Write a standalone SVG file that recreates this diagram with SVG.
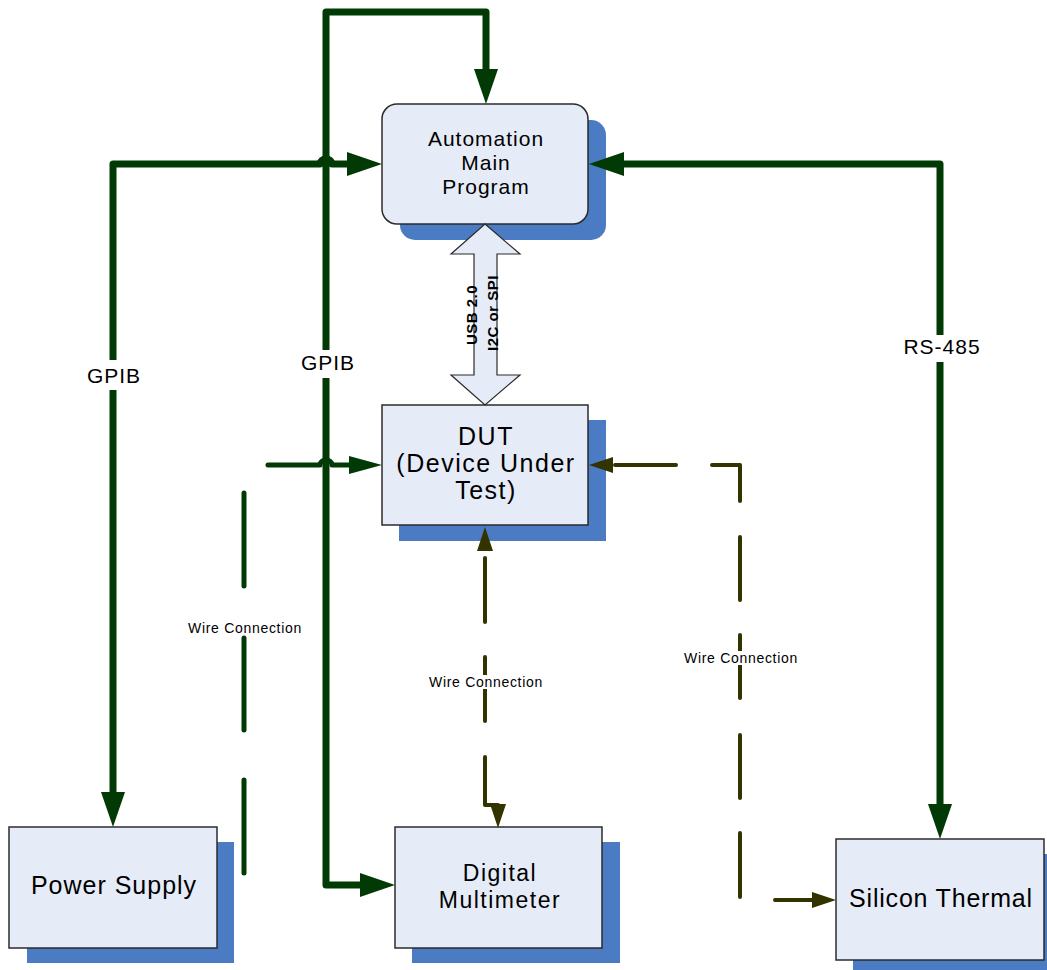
<svg xmlns="http://www.w3.org/2000/svg" width="1047" height="970" viewBox="0 0 1047 970">
<style>
.box{fill:#E6ECF7;stroke:#2b2b2b;stroke-width:1.5}
.sh{fill:#4A7BC3}
.nt{font-family:"Liberation Sans",Arial,sans-serif;fill:#000;text-anchor:middle}
.g{fill:none;stroke:#013A05;stroke-width:7;stroke-linejoin:round;stroke-linecap:round}
.gd{fill:none;stroke:#013A05;stroke-width:5;stroke-linejoin:round;stroke-linecap:round}
.od{fill:none;stroke:#333300;stroke-width:4;stroke-linejoin:round;stroke-linecap:round}
.lbl{font-family:"Liberation Sans",Arial,sans-serif;font-size:21px;letter-spacing:1px;text-anchor:middle;fill:#000}
.wl{font-family:"Liberation Sans",Arial,sans-serif;font-size:14px;letter-spacing:0.7px;text-anchor:middle;fill:#000}
.bg{fill:#fff}
</style>
<defs>
<marker id="ag" markerUnits="userSpaceOnUse" markerWidth="36" markerHeight="24" refX="0" refY="12" orient="auto-start-reverse" overflow="visible">
<path d="M0,0 L35,12 L0,24 z" fill="#013A05"/>
</marker>
<path id="ho" d="M0,0 L-24,-8 L-24,8 z" fill="#333300"/>
<path id="hg" d="M0,0 L-33,-9 L-33,9 z" fill="#013A05"/>
</defs>

<g id="node-automation">
<rect class="sh" x="400" y="120" width="206" height="120" rx="15"/>
<rect class="box" x="382" y="104" width="206" height="120" rx="15"/>
<text class="nt" font-size="21" letter-spacing="1" x="486" y="146">Automation</text>
<text class="nt" font-size="21" letter-spacing="1" x="486" y="170">Main</text>
<text class="nt" font-size="21" letter-spacing="1" x="486" y="194">Program</text>
</g>

<g id="node-dut">
<rect class="sh" x="399" y="420" width="207" height="121"/>
<rect class="box" x="382" y="405" width="206" height="120"/>
<text class="nt" font-size="25" letter-spacing="1.5" x="486" y="445">DUT</text>
<text class="nt" font-size="25" letter-spacing="1.5" x="486" y="472">(Device Under</text>
<text class="nt" font-size="25" letter-spacing="1.5" x="486" y="499">Test)</text>
</g>

<g id="node-power">
<rect class="sh" x="27" y="842" width="207" height="121"/>
<rect class="box" x="9" y="827" width="208" height="121"/>
<text class="nt" font-size="25" letter-spacing="1" x="114" y="894">Power Supply</text>
</g>

<g id="node-dmm">
<rect class="sh" x="412" y="842" width="208" height="121"/>
<rect class="box" x="395" y="827" width="207" height="121"/>
<text class="nt" font-size="23" letter-spacing="1.5" x="500" y="881">Digital</text>
<text class="nt" font-size="23" letter-spacing="1.5" x="500" y="908">Multimeter</text>
</g>

<g id="node-thermal">
<rect class="sh" x="853" y="854" width="194" height="116"/>
<rect class="box" x="836" y="839" width="208" height="121"/>
<text class="nt" font-size="25" letter-spacing="0.8" x="941" y="907">Silicon Thermal</text>
</g>

<g id="connectors">
<!-- GPIB DMM <-> Automation -->
<path class="g" d="M486,69 V12 H326 V885 H360" marker-start="url(#ag)" marker-end="url(#ag)"/>
<!-- GPIB Power Supply <-> Automation -->
<path class="g" d="M113,792 V164 H320 a6,5 0 0 1 12,0 H347" marker-start="url(#ag)" marker-end="url(#ag)"/>
<!-- RS-485 -->
<path class="g" d="M624,164 H940 V804" marker-start="url(#ag)" marker-end="url(#ag)"/>
<!-- USB double arrow -->
<polygon points="485,224 520,254 497,254 497,375 520,375 485,405 451,375 474,375 474,254 451,254" fill="#E6ECF7" stroke="#2b2b2b" stroke-width="1.2"/>
<text font-family="Liberation Sans, Arial, sans-serif" font-weight="bold" font-size="15" letter-spacing="0.5" text-anchor="middle" transform="translate(477,315) rotate(-90)">USB 2.0</text>
<text font-family="Liberation Sans, Arial, sans-serif" font-weight="bold" font-size="15" letter-spacing="0.5" text-anchor="middle" transform="translate(498,313) rotate(-90)">I2C or SPI</text>
<!-- Wire: Power Supply -> DUT -->
<path class="gd" d="M244,873 V780 M244,730 V638 M244,586 V493 M268,465 H320 a6,5 0 0 1 12,0 H352"/>
<use href="#hg" transform="translate(382,465)"/>
<!-- Wire: DUT <-> DMM -->
<path class="od" d="M485,558 V622 M485,657 V721 M485,757 V805 H498"/>
<use href="#ho" transform="translate(485,527) rotate(-90)"/>
<use href="#ho" transform="translate(498,828) rotate(90)"/>
<!-- Wire: DUT <-> Silicon Thermal -->
<path class="od" d="M615,465 H676 M712,465 H740 V501 M740,537 V600 M740,635 V698 M740,735 V798 M740,833 V897 M775,900 H812"/>
<use href="#ho" transform="translate(589,465) rotate(180)"/>
<use href="#ho" transform="translate(836,900)"/>
</g>

<g id="labels">
<rect class="bg" x="84" y="360" width="58" height="30"/>
<text class="lbl" x="114" y="383">GPIB</text>
<rect class="bg" x="297" y="350" width="59" height="28"/>
<text class="lbl" x="328" y="370">GPIB</text>
<rect class="bg" x="900" y="335" width="82" height="27"/>
<text class="lbl" x="942" y="354">RS-485</text>
<rect class="bg" x="186" y="621" width="116" height="14"/>
<text class="wl" x="245" y="633">Wire Connection</text>
<rect class="bg" x="427" y="675" width="116" height="14"/>
<text class="wl" x="486" y="687">Wire Connection</text>
<rect class="bg" x="682" y="651" width="116" height="14"/>
<text class="wl" x="741" y="663">Wire Connection</text>
</g>
</svg>
